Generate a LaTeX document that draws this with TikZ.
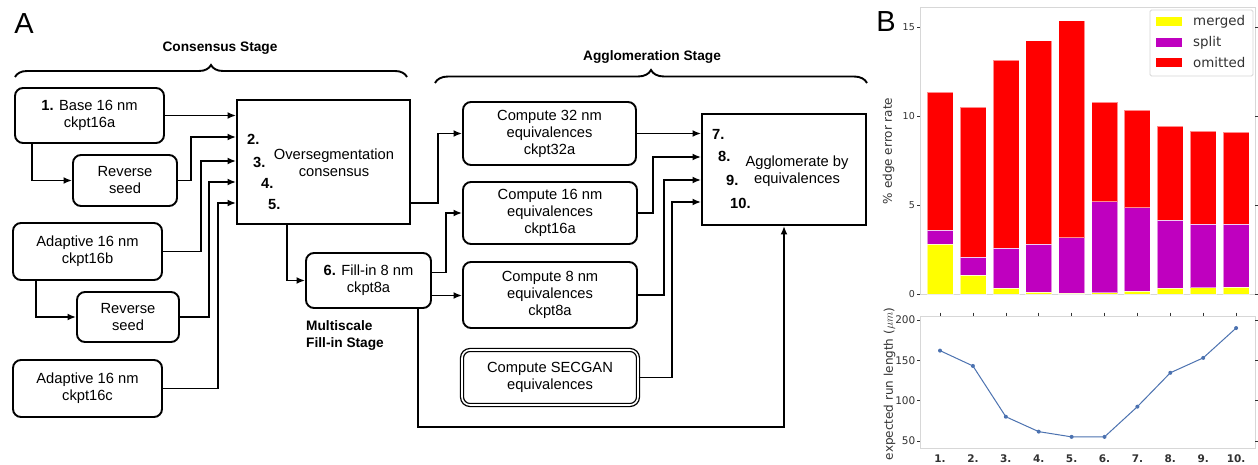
\documentclass[tikz,border=0pt]{standalone}
\usepackage{fontspec}
\setmainfont{Liberation Sans}
\newfontfamily\dejavu{DejaVu Sans}
\usetikzlibrary{arrows.meta,decorations.pathreplacing}
\definecolor{mergedc}{RGB}{255,255,0}
\definecolor{splitc}{RGB}{191,0,191}
\definecolor{omitc}{RGB}{255,0,0}
\definecolor{linec}{RGB}{76,114,176}
\definecolor{framec}{RGB}{215,215,215}
\definecolor{tickc}{RGB}{50,50,50}
\begin{document}
\begin{tikzpicture}[x=1pt,y=-1pt,
  box/.style={draw, line width=1.9pt, rounded corners=8pt, align=center, inner sep=0pt, font=\fontsize{14.7}{17}\selectfont},
  sqbox/.style={draw, line width=1.9pt, inner sep=0pt},
  arr/.style={line width=1.9pt, -{Latex[length=8.5pt,width=7pt]}},
  txt/.style={font=\fontsize{14.7}{17}\selectfont, inner sep=0pt, align=center},
  num/.style={font=\fontsize{14.7}{17}\selectfont\bfseries, inner sep=0pt, anchor=west},
  stage/.style={font=\fontsize{13.7}{17}\selectfont\bfseries, inner sep=0pt},
  brc/.style={decorate, decoration={brace, amplitude=12pt}, line width=1.9pt},
  bigl/.style={font=\fontsize{29}{30}\selectfont, inner sep=0pt},
  ytick/.style={anchor=east, inner sep=0pt, text=tickc},
  axl/.style={font=\dejavu\fontsize{12}{14}\selectfont, text=tickc, rotate=90, inner sep=0pt},
]
\useasboundingbox (0,0) rectangle (1258,465);
\fill[white] (0,0) rectangle (1258,465);

% ---------- Panel A ----------
\node[bigl] (labA) at (24,24) {A};
\node[stage] (stC) at (220,48) {Consensus Stage};
\node[stage] (stA) at (652,57) {Agglomeration Stage};
\coordinate (bc1) at (15,77);
\coordinate (bc2) at (407,77);
\coordinate (ba1) at (435,83);
\coordinate (ba2) at (867,83);
\draw[brc] (bc1) -- (bc2);
\draw[brc, decoration={amplitude=13pt}] (ba1) -- (ba2);

\node[box, minimum width=149pt, minimum height=55pt] (b1) at (89.5,115.5) {\textbf{1.} Base 16 nm\\ckpt16a};
\node[box, minimum width=104pt, minimum height=51pt] (rs1) at (125,180.5) {Reverse\\seed};
\node[box, minimum width=149pt, minimum height=57pt] (a16b) at (87.5,251.5) {Adaptive 16 nm\\ckpt16b};
\node[box, minimum width=102pt, minimum height=50pt] (rs2) at (128,317) {Reverse\\seed};
\node[box, minimum width=149pt, minimum height=57pt] (a16c) at (87.5,388.5) {Adaptive 16 nm\\ckpt16c};

\node[sqbox, minimum width=173pt, minimum height=124pt] (os) at (323.5,162) {};
\node[txt] (ostxt) at (334,163) {Oversegmentation\\consensus};
\node[num] (n2) at (247,139) {2.};
\node[num] (n3) at (253,162) {3.};
\node[num] (n4) at (261,183) {4.};
\node[num] (n5) at (268,205) {5.};

\node[box, minimum width=125pt, minimum height=55pt] (fill) at (368.5,280.5) {\textbf{6.} Fill-in 8 nm\\ckpt8a};
\node[stage, anchor=west, align=left] (stM) at (306,335.5) {Multiscale\\Fill-in Stage};

\node[box, minimum width=173pt, minimum height=63pt] (c32) at (549.5,133.5) {Compute 32 nm\\equivalences\\ckpt32a};
\node[box, minimum width=174pt, minimum height=62pt] (c16) at (550,213) {Compute 16 nm\\equivalences\\ckpt16a};
\node[box, minimum width=174pt, minimum height=66pt] (c8) at (550,295) {Compute 8 nm\\equivalences\\ckpt8a};
\node[box, line width=1.3pt, double, double distance=1.6pt, minimum width=176pt, minimum height=55pt] (sg) at (550,377.5) {Compute SECGAN\\equivalences};

\node[sqbox, minimum width=164pt, minimum height=111pt] (ag) at (784,169.5) {};
\node[txt] (agtxt) at (797,171.5) {Agglomerate by\\equivalences};
\node[num] (n7) at (712,134) {7.};
\node[num] (n8) at (718,156) {8.};
\node[num] (n9) at (726,180) {9.};
\node[num] (n10) at (730,203) {10.};

% connectors into consensus
\draw[arr] (b1.east) -- (b1.east -| os.west);
\draw[arr] ([xshift=18pt]b1.south west) |- (rs1.west);
\draw[arr] (rs1.east) -- ++(13,0) |- ([yshift=25pt]os.west);
\draw[arr] (a16b.east) -- ++(38,0) |- ([yshift=1pt]os.west);
\draw[arr] ([xshift=24pt]a16b.south west) |- (rs2.west);
\draw[arr] (rs2.east) -- ++(29,0) |- ([yshift=-20pt]os.west);
\draw[arr] (a16c.east) -- ++(55,0) |- ([yshift=-41pt]os.west);
% consensus outputs
\draw[arr] ([xshift=51pt]os.south west) |- (fill.west);
\draw[arr] ([yshift=-41pt]os.east) -- ++(27,0) |- (c32.west);
\draw[arr] ([yshift=8pt]fill.east) -- ++(14,0) |- (c16.west);
\draw[arr] ([yshift=-15pt]fill.east) -- ([yshift=-15pt]fill.east -| c8.west);
\draw[arr] ([xshift=-14pt]fill.south east) -- ++(0,118) -| (ag.south);
% into agglomerate
\draw[arr] (c32.east) -- (c32.east -| ag.west);
\draw[arr] (c16.east) -- ++(15,0) |- ([yshift=12.5pt]ag.west);
\draw[arr] (c8.east) -- ++(26,0) |- ([yshift=-10.5pt]ag.west);
\draw[arr] (sg.east) -- ++(33,0) |- ([yshift=-32.5pt]ag.west);

% ---------- Panel B ----------
\node[bigl] (labB) at (886,22) {B};
% bar chart
\draw[framec, line width=0.8pt] (920,7) rectangle (1255,294);
\foreach \i/\m/\s/\t in {1/2.81/3.60/11.33, 2/1.05/2.06/10.49, 3/0.32/2.57/13.13, 4/0.09/2.79/14.23, 5/0.04/3.16/15.36, 6/0.07/5.19/10.77, 7/0.17/4.85/10.32, 8/0.32/4.16/9.44, 9/0.36/3.91/9.14, 10/0.37/3.91/9.08} {
  \pgfmathsetmacro\xc{940+(\i-1)*32.9}
  \draw[draw=white, draw opacity=0.55, line width=0.6pt, fill=mergedc] ({\xc-13},294) rectangle ({\xc+13},{294-17.8*\m});
  \draw[draw=white, draw opacity=0.55, line width=0.6pt, fill=splitc] ({\xc-13},{294-17.8*\m}) rectangle ({\xc+13},{294-17.8*\s});
  \draw[draw=white, draw opacity=0.55, line width=0.6pt, fill=omitc] ({\xc-13},{294-17.8*\s}) rectangle ({\xc+13},{294-17.8*\t});
}
\foreach \v in {0,5,10,15} {
  \draw[tickc, line width=0.6pt] (917,{294-17.8*\v}) -- (920,{294-17.8*\v});
  \draw[tickc, line width=0.6pt] (1255,{294-17.8*\v}) -- (1258,{294-17.8*\v});
  \node[ytick, font=\dejavu\fontsize{9.5}{10}\selectfont] (by\v) at (915,{294-17.8*\v}) {\v};
}
\node[axl] (ylab1) at (888.5,151) {\% edge error rate};
% legend
\draw[framec, fill=white, line width=0.8pt, rounded corners=1.5pt] (1150,10) rectangle (1253,76);
\fill[mergedc] (1156,17.5) rectangle (1182,26.5);
\fill[splitc] (1156,38) rectangle (1182,47);
\fill[omitc] (1156,58) rectangle (1182,67);
\node[anchor=west, inner sep=0pt, font=\dejavu\fontsize{13.4}{15}\selectfont, text=tickc] (lg1) at (1193,22) {merged};
\node[anchor=west, inner sep=0pt, font=\dejavu\fontsize{13.4}{15}\selectfont, text=tickc] (lg2) at (1193,42.5) {split};
\node[anchor=west, inner sep=0pt, font=\dejavu\fontsize{13.4}{15}\selectfont, text=tickc] (lg3) at (1193,62.5) {omitted};

% line chart
\draw[framec, line width=0.8pt] (920,316) rectangle (1255,448);
\foreach \i in {1,...,10} {
  \pgfmathsetmacro\xc{940+(\i-1)*32.9}
  \draw[tickc, line width=0.6pt] (\xc,312.5) -- (\xc,315.5);
  \node[anchor=base, inner sep=0pt, font=\dejavu\bfseries\fontsize{10.5}{11}\selectfont, text=tickc] (bx\i) at (\xc,462.5) {\i.};
}
\foreach \v in {50,100,150,200} {
  \draw[tickc, line width=0.6pt] (917,{320+(200-\v)*0.806}) -- (920,{320+(200-\v)*0.806});
  \draw[tickc, line width=0.6pt] (1255,{320+(200-\v)*0.806}) -- (1258,{320+(200-\v)*0.806});
  \node[ytick, font=\dejavu\fontsize{10.5}{11}\selectfont] (ly\v) at (915.5,{320+(200-\v)*0.806}) {\v};
}
\draw[linec, line width=1pt] plot coordinates {(940,{320+(200-162)*0.806}) (972.9,{320+(200-143)*0.806}) (1005.8,{320+(200-80)*0.806}) (1038.7,{320+(200-61.5)*0.806}) (1071.6,{320+(200-55)*0.806}) (1104.5,{320+(200-55)*0.806}) (1137.4,{320+(200-92.5)*0.806}) (1170.3,{320+(200-134.5)*0.806}) (1203.2,{320+(200-153)*0.806}) (1236.1,{320+(200-190)*0.806})};
\foreach \i/\v in {1/162,2/143,3/80,4/61.5,5/55,6/55,7/92.5,8/134.5,9/153,10/190} {
  \pgfmathsetmacro\xc{940+(\i-1)*32.9}
  \fill[linec] (\xc,{320+(200-\v)*0.806}) circle (2pt);
}
\node[axl] (ylab2) at (889.5,384) {expected run length ($\mu m$)};
\end{tikzpicture}
\end{document}
